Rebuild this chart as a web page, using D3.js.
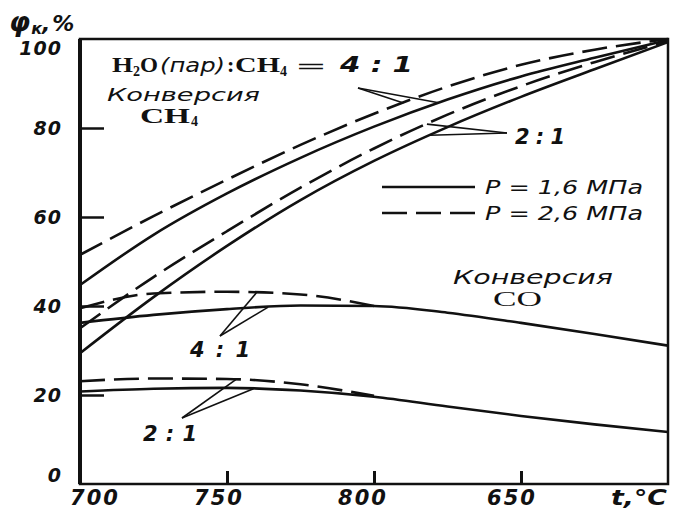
<!DOCTYPE html>
<html>
<head>
<meta charset="utf-8">
<script src="https://cdn.jsdelivr.net/npm/d3@7"></script>
<style>
  body { margin: 0; background: #fff; }
  svg { display: block; background: #fff; }
  .lbl { font-family: 'DejaVu Sans', sans-serif; font-style: italic; font-weight: bold; fill: #111; }
  .ital { font-family: 'DejaVu Sans', sans-serif; font-style: italic; fill: #111; }
  .ser { font-family: 'Liberation Serif', serif; font-weight: bold; fill: #111; }
</style>
</head>
<body>
<svg></svg>
<script>
// temperatures, °C
let temps = [700, 725, 750, 775, 800, 825, 850, 875, 900]
let tempsShort = [700, 725, 750, 775, 800]

// CH4 conversion, %
let ch4_41_p16 = [44.7, 56, 65.3, 73.3, 80.3, 86.4, 91.6, 95.8, 99.8]
let ch4_41_p26 = [51.5, 60.2, 68.4, 76.2, 83.2, 89.3, 94.2, 97.6, 100]
let ch4_21_p16 = [29.4, 42, 53.5, 63.8, 72.6, 80.2, 87, 93.2, 99.3]
let ch4_21_p26 = [35, 46.5, 56.8, 66.6, 75.4, 83, 89.4, 94.8, 99.5]

// CO conversion, %
let co_41_p16 = [36.2, 38.0, 39.3, 40.1, 40.0, 38.5, 36.2, 33.7, 31.1]
let co_41_p26 = [39.5, 42.8, 43.2, 42.6, 40.0]
let co_21_p16 = [20.8, 21.4, 21.6, 21.0, 19.6, 17.4, 15.3, 13.4, 11.7]
let co_21_p26 = [23.1, 23.7, 23.6, 22.4, 19.8]

let xTicks = [700, 750, 800, 850]
let xTickLabels = ['700', '750', '800', '650']
let yTicks = [0, 20, 40, 60, 80, 100]

let width = 675
let height = 511
let plotLeft = 80
let plotRight = 668
let plotTop = 39
let plotBottom = 484

let svg = d3.select('svg')
  .attr('width', width)
  .attr('height', height)

let xScale = d3.scaleLinear().domain([700, 900]).range([plotLeft, plotRight])
let yScale = d3.scaleLinear().domain([0, 100]).range([plotBottom, plotTop])

let line = d3.line()
  .x((d) => xScale(d[0]))
  .y((d) => yScale(d[1]))
  .curve(d3.curveMonotoneX)

let series = [
  { t: temps, v: ch4_41_p26, dash: true },
  { t: temps, v: ch4_41_p16, dash: false },
  { t: temps, v: ch4_21_p26, dash: true },
  { t: temps, v: ch4_21_p16, dash: false },
  { t: temps, v: co_41_p16, dash: false },
  { t: tempsShort, v: co_41_p26, dash: true },
  { t: temps, v: co_21_p16, dash: false },
  { t: tempsShort, v: co_21_p26, dash: true }
]

svg.selectAll('path.curve')
  .data(series)
  .enter()
  .append('path')
  .attr('class', 'curve')
  .attr('d', (s) => line(s.t.map((t, i) => [t, s.v[i]])))
  .attr('fill', 'none')
  .attr('stroke', '#111')
  .attr('stroke-width', 2.6)
  .attr('stroke-dasharray', (s) => s.dash ? '25,9' : null)

// frame
svg.append('rect')
  .attr('x', plotLeft)
  .attr('y', plotTop)
  .attr('width', plotRight - plotLeft)
  .attr('height', plotBottom - plotTop)
  .attr('fill', 'none')
  .attr('stroke', '#111')
  .attr('stroke-width', 2.5)
svg.append('line')
  .attr('x1', plotLeft).attr('x2', plotLeft)
  .attr('y1', plotTop).attr('y2', plotBottom)
  .attr('stroke', '#111').attr('stroke-width', 4)

// axes (inward ticks)
let xAxis = d3.axisBottom(xScale)
  .tickValues(xTicks.slice(1))
  .tickSize(-13)
  .tickFormat('')
svg.append('g')
  .attr('transform', 'translate(0,' + plotBottom + ')')
  .call(xAxis)
  .call((g) => g.select('.domain').remove())
  .call((g) => g.selectAll('line').attr('stroke', '#111').attr('stroke-width', 3))

let yAxis = d3.axisLeft(yScale)
  .tickValues([20, 40, 60, 80])
  .tickSize(-24)
  .tickFormat('')
svg.append('g')
  .attr('transform', 'translate(' + plotLeft + ',0)')
  .call(yAxis)
  .call((g) => g.select('.domain').remove())
  .call((g) => g.selectAll('line').attr('stroke', '#111').attr('stroke-width', 2.5))

// tick labels
let xShift = [15, -8, -11, -9]
svg.selectAll('text.xl')
  .data(xTicks)
  .enter()
  .append('text')
  .attr('class', 'lbl xl')
  .attr('x', (d, i) => xScale(d) + xShift[i])
  .attr('y', 505)
  .attr('text-anchor', 'middle')
  .style('font-size', '21px')
  .style('letter-spacing', '2px')
  .text((d, i) => xTickLabels[i])

svg.selectAll('text.yl')
  .data(yTicks)
  .enter()
  .append('text')
  .attr('class', 'lbl yl')
  .attr('x', 62)
  .attr('y', (d) => yScale(d) + 7 + (d == 100 ? 9 : 0) + (d == 0 ? -9 : 0))
  .attr('text-anchor', 'end')
  .style('font-size', '19px')
  .style('letter-spacing', '1px')
  .text((d) => d)

svg.append('text')
  .attr('class', 'lbl')
  .attr('x', 611).attr('y', 505)
  .attr('textLength', 56).attr('lengthAdjust', 'spacingAndGlyphs')
  .style('font-size', '21px')
  .text('t,°C')

let yTitle = svg.append('text').attr('class', 'lbl').attr('x', 9).attr('y', 31)
yTitle.append('tspan').style('font-size', '27px').text('φ')
yTitle.append('tspan').style('font-size', '16px').attr('dy', 3).attr('dx', 1).text('к')
yTitle.append('tspan').style('font-size', '22px').attr('dy', -3).style('letter-spacing', '2px').text(',%')

// annotations
let fit = 'spacingAndGlyphs'
let head = svg.append('text').attr('y', 72).style('font-size', '22px')
head.append('tspan').attr('class', 'ser').attr('x', 112).attr('textLength', 21).attr('lengthAdjust', fit).text('H')
head.append('tspan').attr('class', 'ser').attr('x', 133).attr('dy', 4).style('font-size', '14px').text('2')
head.append('tspan').attr('class', 'ser').attr('x', 140).attr('dy', -4).attr('textLength', 18).attr('lengthAdjust', fit).text('O')
head.append('tspan').attr('class', 'ital').attr('x', 160).attr('textLength', 65).attr('lengthAdjust', fit).style('font-size', '20px').text('(пар)')
head.append('tspan').attr('class', 'ser').attr('x', 227).text(':')
head.append('tspan').attr('class', 'ser').attr('x', 235).attr('textLength', 45).attr('lengthAdjust', fit).text('CH')
head.append('tspan').attr('class', 'ser').attr('x', 280).attr('dy', 4).style('font-size', '14px').text('4')
head.append('tspan').attr('class', 'ital').attr('x', 295).attr('dy', -4).attr('textLength', 32).attr('lengthAdjust', fit).style('font-size', '17px').text('=')
head.append('tspan').attr('class', 'ital').attr('x', 340).attr('textLength', 73).attr('lengthAdjust', fit).style('font-size', '21px').style('font-weight', 'bold').text('4 : 1')

svg.append('text').attr('class', 'ital').attr('x', 107).attr('y', 101)
  .attr('textLength', 153).attr('lengthAdjust', fit)
  .style('font-size', '17px')
  .text('Конверсия')
let ch4 = svg.append('text').attr('class', 'ser').attr('y', 123).style('font-size', '20px')
ch4.append('tspan').attr('x', 140).attr('textLength', 50).attr('lengthAdjust', fit).text('CH')
ch4.append('tspan').attr('x', 191).attr('dy', 3).style('font-size', '14px').text('4')

svg.append('text').attr('class', 'ital').attr('x', 453).attr('y', 284)
  .attr('textLength', 160).attr('lengthAdjust', fit)
  .style('font-size', '19px')
  .text('Конверсия')
svg.append('text').attr('class', 'ser').attr('x', 493).attr('y', 306)
  .attr('textLength', 49).attr('lengthAdjust', fit)
  .style('font-size', '21px').style('font-weight', 'normal')
  .text('CO')

// leaders from a label vertex to a point on a curve
let at = (s, t) => {
  let i = d3.bisectLeft(s.t, t)
  if (s.t[i] == t) return s.v[i]
  let f = (t - s.t[i - 1]) / (s.t[i] - s.t[i - 1])
  return s.v[i - 1] + f * (s.v[i] - s.v[i - 1])
}
let leaders = [
  { vx: 358, vy: 88, s: series[0], t: 810 },
  { vx: 358, vy: 88, s: series[1], t: 822 },
  { vx: 507, vy: 133, s: series[2], t: 818 },
  { vx: 507, vy: 133, s: series[3], t: 819 },
  { vx: 220, vy: 336, s: series[5], t: 760 },
  { vx: 220, vy: 336, s: series[4], t: 764 },
  { vx: 182, vy: 418, s: series[7], t: 753 },
  { vx: 182, vy: 418, s: series[6], t: 759 }
]
svg.selectAll('line.leader')
  .data(leaders)
  .enter()
  .append('line')
  .attr('class', 'leader')
  .attr('x1', (d) => d.vx).attr('y1', (d) => d.vy)
  .attr('x2', (d) => xScale(d.t)).attr('y2', (d) => yScale(at(d.s, d.t)))
  .attr('stroke', '#111').attr('stroke-width', 1.6)

let ratio = [
  { x: 515, y: 144, w: 50, text: '2:1' },
  { x: 190, y: 357, w: 60, text: '4:1' },
  { x: 143, y: 441, w: 54, text: '2:1' }
]
svg.selectAll('text.ratio')
  .data(ratio)
  .enter()
  .append('text')
  .attr('class', 'lbl ratio')
  .attr('x', (d) => d.x).attr('y', (d) => d.y)
  .attr('textLength', (d) => d.w)
  .style('font-size', '21px')
  .text((d) => d.text)

// legend
let legend = [
  { y: 187, dash: false, text: 'P = 1,6 МПа' },
  { y: 213, dash: true, text: 'P = 2,6 МПа' }
]
let lg = svg.selectAll('g.legend')
  .data(legend)
  .enter()
  .append('g')
  .attr('class', 'legend')
lg.append('line')
  .attr('x1', 382).attr('x2', 475)
  .attr('y1', (d) => d.y).attr('y2', (d) => d.y)
  .attr('stroke', '#111').attr('stroke-width', 2.6)
  .attr('stroke-dasharray', (d) => d.dash ? '25,9' : null)
lg.append('text')
  .attr('class', 'ital')
  .attr('x', 485).attr('y', (d) => d.y + 7)
  .attr('textLength', 158).attr('lengthAdjust', fit)
  .style('font-size', '20px')
  .text((d) => d.text)
</script>
</body>
</html>
